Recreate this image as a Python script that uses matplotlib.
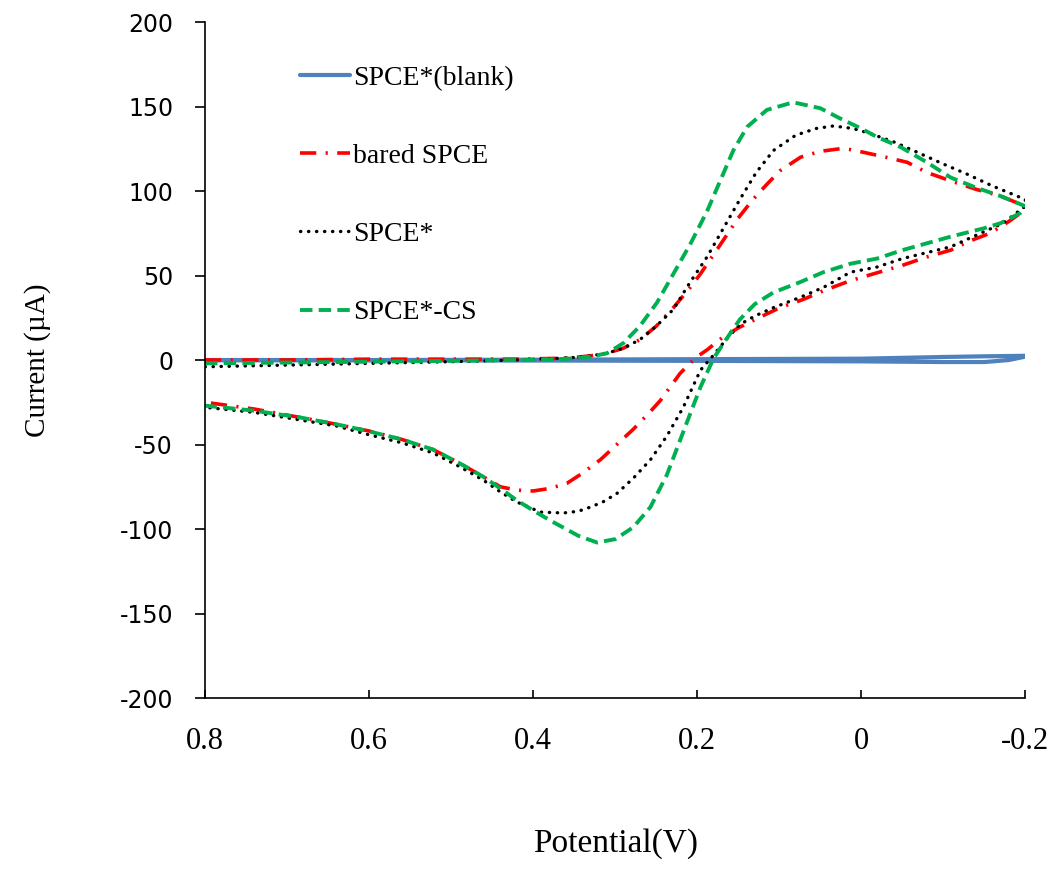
import matplotlib
matplotlib.use("Agg")
import matplotlib.pyplot as plt

plt.rcParams["axes.unicode_minus"] = False

# CV data, potential (V) and current (uA)
# each curve: forward scan 0.8 -> -0.2, then reverse -0.2 -> 0.8

blank_v = [0.80, 0.60, 0.40, 0.20, 0.00, -0.10, -0.15, -0.20,
           -0.20, -0.18, -0.15, -0.10, -0.05, 0.00, 0.20, 0.40, 0.60, 0.80]
blank_i = [0.0, 0.0, 0.2, 0.5, 0.8, 1.8, 2.2, 2.5,
           2.0, 0.0, -1.2, -1.2, -1.0, -0.8, -0.5, -0.3, -0.2, -0.1]

bare_v = [0.80, 0.70, 0.60, 0.50, 0.42, 0.37, 0.35, 0.33, 0.31, 0.29, 0.27, 0.25,
          0.229, 0.21, 0.196, 0.182, 0.168, 0.15, 0.132, 0.115, 0.099, 0.074, 0.05,
          0.026, 0.013, -0.002, -0.03, -0.056, -0.08, -0.109, -0.14, -0.17, -0.20,
          -0.20, -0.18, -0.157, -0.13, -0.109, -0.08, -0.05, -0.015, 0.013, 0.046,
          0.07, 0.099, 0.125, 0.15, 0.17, 0.188, 0.20, 0.209, 0.221, 0.245, 0.26,
          0.278, 0.298, 0.318, 0.34, 0.359, 0.38, 0.40, 0.42, 0.44, 0.461, 0.49,
          0.522, 0.56, 0.60, 0.64, 0.684, 0.74, 0.80]
bare_i = [0.0, 0.0, 0.5, 0.5, 0.5, 1.0, 1.5, 2.5, 4, 7, 12, 20,
          31, 42, 51, 61, 71, 84, 95, 104, 112, 120, 123.5,
          125, 124.5, 123, 120, 117, 111, 106, 101, 97, 91,
          89, 82, 75, 70, 65, 61, 56, 51, 47, 41,
          36, 31, 25, 19, 13, 6, 2, -2, -8, -24, -32,
          -41, -50, -59, -67, -73, -76, -77.5, -77, -75, -69, -61,
          -53, -47, -42, -38, -34, -29, -25]

spce_v = [0.80, 0.70, 0.60, 0.50, 0.42, 0.37, 0.35, 0.33, 0.31, 0.29, 0.27, 0.25,
          0.229, 0.21, 0.188, 0.168, 0.148, 0.128, 0.107, 0.08, 0.055, 0.034, 0.01,
          -0.011, -0.04, -0.068, -0.10, -0.129, -0.16, -0.20,
          -0.20, -0.173, -0.15, -0.109, -0.05, -0.019, 0.013, 0.046, 0.075, 0.107,
          0.13, 0.148, 0.165, 0.18, 0.196, 0.217, 0.237, 0.257, 0.278, 0.298, 0.315,
          0.33, 0.345, 0.363, 0.391, 0.42, 0.44, 0.461, 0.49, 0.522, 0.56, 0.602,
          0.64, 0.684, 0.74, 0.80]
spce_i = [-4, -3, -2, -1, 0, 1, 1.5, 2.5, 4, 7, 12, 20,
          30, 45, 61, 78, 95, 111, 124, 133, 137, 138.5, 137,
          134, 129, 123, 116, 110, 103, 95,
          91, 81, 76, 67, 60, 55, 52, 43, 37, 31,
          26, 21, 12, 3, -6, -28, -45, -59, -70, -79, -84,
          -87, -89.5, -90.5, -90, -84, -78, -71, -63, -55, -49, -44,
          -39, -35.5, -31, -28]

cs_v = [0.80, 0.70, 0.60, 0.50, 0.42, 0.37, 0.351, 0.33, 0.31, 0.29, 0.27, 0.249,
        0.229, 0.208, 0.188, 0.172, 0.156, 0.139, 0.115, 0.083, 0.05, 0.026, 0.0,
        -0.019, -0.048, -0.08, -0.109, -0.14, -0.17, -0.20,
        -0.20, -0.194, -0.17, -0.15, -0.109, -0.05, -0.019, 0.013, 0.046, 0.075,
        0.107, 0.13, 0.148, 0.165, 0.18, 0.196, 0.215, 0.237, 0.257, 0.278, 0.30,
        0.322, 0.345, 0.36, 0.379, 0.40, 0.42, 0.44, 0.461, 0.49, 0.522, 0.56,
        0.602, 0.64, 0.684, 0.74, 0.80]
cs_i = [-2, -1.5, -1, -0.5, 0, 0.5, 1, 2, 4, 10, 20, 34,
        51, 69, 88, 106, 124, 138, 148, 152.5, 149, 143, 137,
        132, 126, 117, 108, 102, 97, 91,
        90, 87, 81, 78, 73, 65, 60, 57, 52, 46,
        40, 33, 24, 12, 1, -16, -40, -68, -87, -99, -106,
        -108, -104, -100, -95, -89, -83, -76, -69, -61, -53, -47,
        -42, -38, -34, -30, -27]

labels = ["SPCE*(blank)", "bared SPCE", "SPCE*", "SPCE*-CS"]

serif = "Liberation Serif"

fig = plt.figure(figsize=(10.57, 8.81), dpi=100)
ax = fig.add_axes([0.194, 0.2077, 0.776, 0.7673])

ax.plot(blank_v, blank_i, color="#4F81BD", lw=3.0, label=labels[0],
        solid_capstyle="round")
ax.plot(bare_v, bare_i, color="#FF0000", lw=2.6, label=labels[1],
        linestyle=(0, (4.5, 2.6, 0.6, 2.6)))
ax.plot(spce_v, spce_i, color="black", lw=2.4, label=labels[2],
        linestyle=(0, (0.1, 2.3)), dash_capstyle="round")
ax.plot(cs_v, cs_i, color="#00B050", lw=2.8, label=labels[3],
        linestyle=(0, (3.2, 1.6)))

ax.set_xlim(0.8, -0.2)
ax.set_ylim(-200, 200)
ax.set_xticks([0.8, 0.6, 0.4, 0.2, 0, -0.2])
ax.set_xticklabels(["0.8", "0.6", "0.4", "0.2", "0", "-0.2"])
ax.set_yticks(range(-200, 201, 50))

for s in ["top", "right"]:
    ax.spines[s].set_visible(False)
for s in ["left", "bottom"]:
    ax.spines[s].set_linewidth(1.2)
    ax.spines[s].set_color("black")

ax.tick_params(axis="y", direction="out", length=7, width=1.2, pad=16,
               labelsize=17)
ax.tick_params(axis="x", direction="in", length=6, width=1.2, pad=21,
               labelsize=22)
for t in ax.get_xticklabels():
    t.set_fontfamily(serif)
for t in ax.get_yticklabels():
    t.set_fontfamily("DejaVu Sans")

ax.set_xlabel("Potential(V)", fontfamily=serif, fontsize=24, labelpad=52)
ax.set_ylabel("Current (µA)", fontfamily=serif, fontsize=21, labelpad=49)

ax.legend(loc="upper left", bbox_to_anchor=(0.116, 0.936), frameon=False,
          prop={"family": serif, "size": 20}, handlelength=1.8,
          handletextpad=0.1, labelspacing=1.9, borderpad=0, borderaxespad=0)

fig.savefig("out.png", dpi=100)
